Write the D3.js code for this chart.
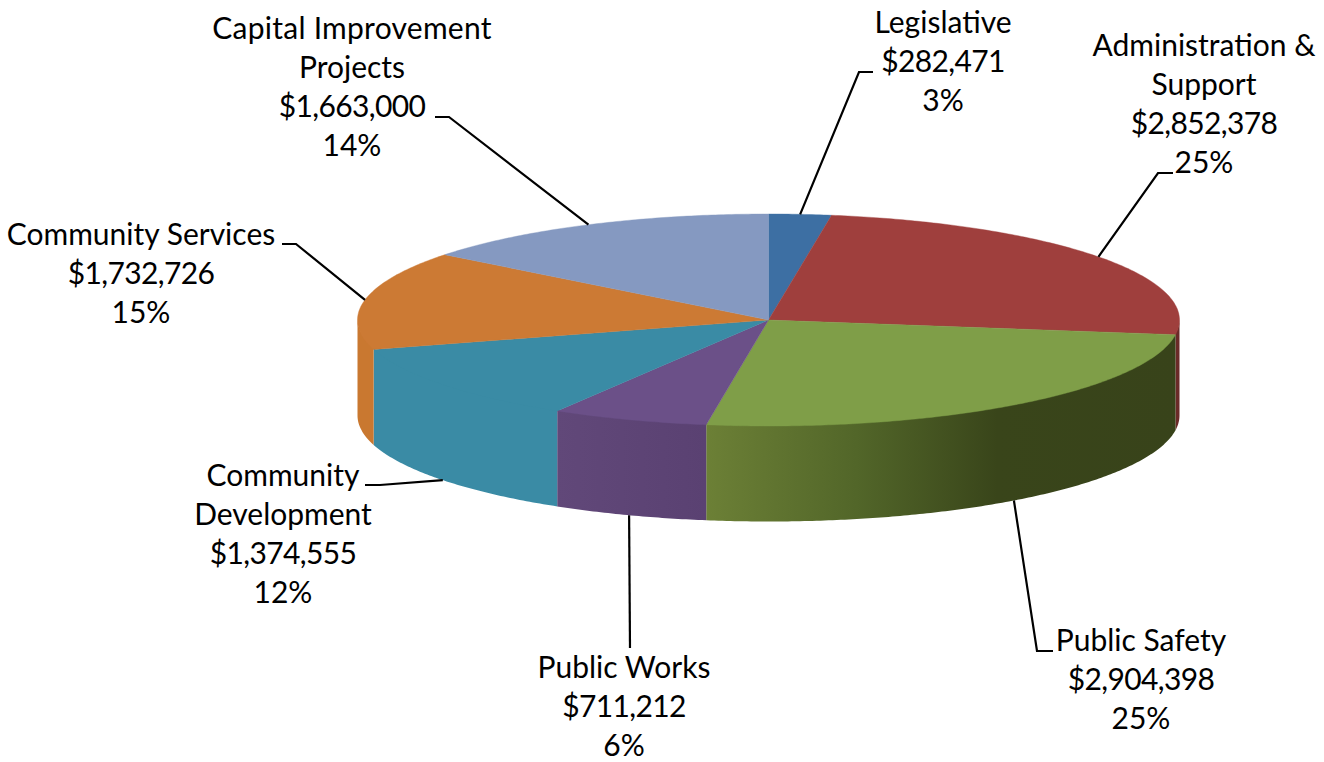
<!DOCTYPE html>
<html>
<head>
<meta charset="utf-8">
<script src="https://cdn.jsdelivr.net/npm/d3@7/dist/d3.min.js"></script>
<style>
html,body{margin:0;padding:0;background:#fff;}
svg{display:block;}
text{font-family:Lato,"Open Sans",sans-serif;font-size:30px;fill:#000;text-anchor:middle;}
.amount{letter-spacing:-0.65px;}
</style>
</head>
<body>
<svg id="chart" width="1324" height="762"></svg>
<script>
// Budget by department
const departments = ["Legislative","Administration & Support","Public Safety","Public Works","Community Development","Community Services","Capital Improvement Projects"];
const amounts = [282471,2852378,2904398,711212,1374555,1732726,1663000];
const percents = ["3%","25%","25%","6%","12%","15%","14%"];

// Name lines as wrapped above the amount
const nameLines = [["Legislative"],["Administration &","Support"],["Public Safety"],["Public Works"],["Community","Development"],["Community Services"],["Capital Improvement","Projects"]];

// Disc geometry
const cx = 768.5, cy = 320, rx = 411, ry = 106, depth = 95.5;
const X = d3.scaleLinear().domain([-1,1]).range([cx-rx,cx+rx]);
const Y = d3.scaleLinear().domain([-1,1]).range([cy-ry,cy+ry]);
const px = a => X(Math.sin(a));
const py = a => Y(-Math.cos(a));

const topFill = ["#3d6fa3","#9f3f3d","#7f9e48","#6b5088","#3a8ba5","#cc7a34","#8599c1"];
const wallStops = [
  [[0,"#2f5680"],[1,"#2f5680"]],
  [[0,"#6a2a28"],[1,"#6a2a28"]],
  [[0,"#6c8036"],[0.32,"#526629"],[0.62,"#39451a"],[1,"#38431a"]],
  [[0,"#614879"],[1,"#5a4172"]],
  [[0,"#3a8ba5"],[1,"#3a8ba5"]],
  [[0,"#c97830"],[1,"#c97830"]],
  [[0,"#7486aa"],[1,"#7486aa"]]
];

// Label placement: centre x, first baseline, extra name tracking, and the leader's elbow points
const labelLayout = [
  {x:943,  y:33,    track:0,    elbow:[[859,72],[873,72]]},
  {x:1204, y:55.5,  track:0,    elbow:[[1158,173],[1173,173]]},
  {x:1141, y:651,   track:0,    elbow:[[1037,651],[1053,651]]},
  {x:624,  y:677.5, track:0,    elbow:[[630,648]]},
  {x:283,  y:485.5, track:0,    elbow:[[380,485],[365,485]]},
  {x:141,  y:245,   track:0,    elbow:[[296,244],[282,244]]},
  {x:352,  y:39,    track:0.25, elbow:[[449,117],[435,117]]}
];
const lineHeight = 39;

const svg = d3.select("#chart");
const defs = svg.append("defs");
const pie = d3.pie().sort(null)(amounts);
const line = d3.line();

function arcPoints(a0,a1){
  const n = Math.max(2,Math.ceil((a1-a0)/0.01));
  return d3.range(n+1).map(i=>a0+(a1-a0)*i/n);
}

// Side walls: only the part of each slice facing the viewer (90deg to 270deg)
const front = [Math.PI/2, Math.PI*1.5];
pie.forEach((s,i)=>{
  const a0 = Math.max(s.startAngle,front[0]), a1 = Math.min(s.endAngle,front[1]);
  if(a1<=a0) return;
  const g = defs.append("linearGradient").attr("id","wall"+i).attr("gradientUnits","userSpaceOnUse")
    .attr("x1",Math.min(px(a0),px(a1))).attr("x2",Math.max(px(a0),px(a1))).attr("y1",0).attr("y2",0);
  wallStops[i].forEach(d=>g.append("stop").attr("offset",d[0]).attr("stop-color",d[1]));
  const angles = arcPoints(a0,a1);
  // Upper rim pulled slightly inward so the top face overlaps it without a seam
  const pts = angles.map(a=>[px(a),py(a)-1.5]).concat(angles.slice().reverse().map(a=>[px(a),py(a)+depth]));
  svg.append("path").attr("d",line(pts)+"Z").attr("fill",`url(#wall${i})`);
});

// Top face of each slice
pie.forEach((s,i)=>{
  const pts = [[cx,cy]].concat(arcPoints(s.startAngle,s.endAngle).map(a=>[px(a),py(a)]));
  svg.append("path").attr("d",line(pts)+"Z").attr("fill",topFill[i]).attr("stroke",topFill[i]).attr("stroke-width",0.4);
});

// Leaders start at each slice's mid-angle, on the wall's lower rim when it faces front
pie.forEach((s,i)=>{
  const m = (s.startAngle+s.endAngle)/2;
  const onWall = Math.cos(m)<0;
  const start = [px(m),py(m)+(onWall?depth:0)];
  svg.append("path").attr("d",line([start].concat(labelLayout[i].elbow)))
    .attr("fill","none").attr("stroke","#000").attr("stroke-width",2.2);
});

// Labels: name lines, amount, percent
const money = d3.format("$,");
departments.forEach((d,i)=>{
  const L = labelLayout[i];
  const t = svg.append("text").attr("aria-label",d);
  const names = nameLines[i];
  names.forEach((r,k)=>t.append("tspan").attr("x",L.x).attr("y",L.y+k*lineHeight)
    .style("letter-spacing",(k===0?L.track:0)+"px").text(r));
  t.append("tspan").attr("class","amount").attr("x",L.x).attr("y",L.y+names.length*lineHeight).text(money(amounts[i]));
  t.append("tspan").attr("x",L.x).attr("y",L.y+(names.length+1)*lineHeight).text(percents[i]);
});
</script>
</body>
</html>
